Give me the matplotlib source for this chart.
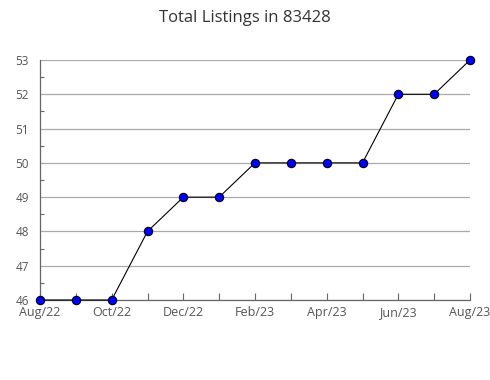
import numpy as np
import matplotlib.pyplot as plt
from matplotlib.ticker import MultipleLocator

plt.rcParams['font.family'] = ['Open Sans', 'DejaVu Sans']

# monthly listing counts, Aug/22 .. Aug/23
months = ['Aug/22', 'Sep/22', 'Oct/22', 'Nov/22', 'Dec/22', 'Jan/23', 'Feb/23',
          'Mar/23', 'Apr/23', 'May/23', 'Jun/23', 'Jul/23', 'Aug/23']
listings = [46, 46, 46, 48, 49, 49, 50, 50, 50, 50, 52, 52, 53]

fig = plt.figure(figsize=(4.9, 3.8), dpi=100)
ax = fig.add_axes([40/490, 80/380, 430/490, 240/380])

x = np.arange(len(months))
ax.plot(x, listings, color='black', linewidth=0.8, marker='o', markersize=6,
        markerfacecolor='#0000ff', markeredgecolor='black', markeredgewidth=0.8,
        zorder=3, clip_on=False)

ax.set_xlim(0, len(months) - 1)
ax.set_ylim(46, 53)
ax.set_xticks(x)
ax.set_xticklabels([m if i % 2 == 0 else '' for i, m in enumerate(months)])
ax.yaxis.set_major_locator(MultipleLocator(1))
ax.yaxis.set_minor_locator(MultipleLocator(0.5))

ax.grid(True, axis='y', which='major', color='#aaaaaa', linewidth=0.9)
ax.set_axisbelow(True)
for s in ['top', 'right']:
    ax.spines[s].set_visible(False)
for s in ['left', 'bottom']:
    ax.spines[s].set_color('#666666')
    ax.spines[s].set_linewidth(0.9)

ax.tick_params(axis='x', direction='in', length=5, width=0.8, color='#666666',
               labelsize=9, labelcolor='#555555', pad=4.5)
ax.tick_params(axis='y', which='major', length=0, labelsize=8.5,
               labelcolor='#555555', pad=8)
ax.tick_params(axis='y', which='minor', direction='in', length=3, width=0.8,
               color='#666666')

fig.suptitle('Total Listings in 83428', y=0.975, fontsize=12, color='#333333')

fig.savefig('out.png', dpi=100)
